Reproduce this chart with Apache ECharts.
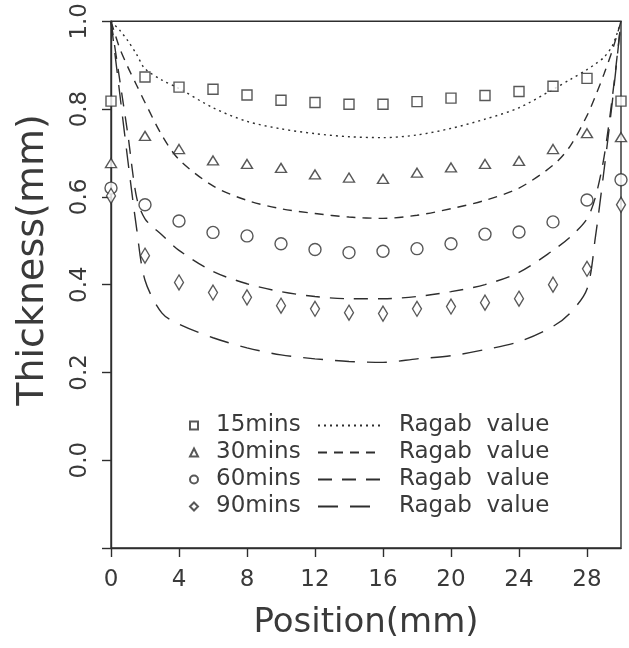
<!DOCTYPE html>
<html><head><meta charset="utf-8">
<script src="https://cdn.jsdelivr.net/npm/echarts@6/dist/echarts.min.js"></script>
<style>html,body{margin:0;padding:0;background:#fff}#c{width:629px;height:648px}</style>
</head><body><div id="c"></div>
<script>
// ---- data ----
const positions = [0, 2, 4, 6, 8, 10, 12, 14, 16, 18, 20, 22, 24, 26, 28, 30];
const mins15 = [0.818, 0.873, 0.850, 0.845, 0.832, 0.820, 0.815, 0.811, 0.811, 0.817, 0.825, 0.831, 0.840, 0.852, 0.870, 0.818];
const mins30 = [0.677, 0.739, 0.709, 0.683, 0.675, 0.666, 0.651, 0.644, 0.641, 0.655, 0.667, 0.675, 0.682, 0.709, 0.745, 0.736];
const mins60 = [0.620, 0.582, 0.545, 0.519, 0.511, 0.493, 0.480, 0.473, 0.476, 0.482, 0.493, 0.515, 0.520, 0.543, 0.593, 0.639];
const mins90 = [0.602, 0.466, 0.405, 0.382, 0.371, 0.352, 0.345, 0.336, 0.334, 0.345, 0.350, 0.359, 0.368, 0.400, 0.436, 0.582];

const ragabX  = [0, 0.5, 1, 1.5, 2, 3, 4, 6, 8, 10, 12, 14, 16, 18, 20, 22, 24, 26, 27, 28, 28.5, 29, 29.5, 30];
const ragab15 = [1.0, 0.98, 0.955, 0.925, 0.892, 0.866, 0.847, 0.803, 0.772, 0.755, 0.744, 0.737, 0.735, 0.741, 0.756, 0.777, 0.803, 0.845, 0.867, 0.89, 0.903, 0.918, 0.945, 1.0];
const ragab30 = [1.0, 0.94, 0.895, 0.855, 0.815, 0.74, 0.685, 0.625, 0.592, 0.573, 0.562, 0.554, 0.551, 0.558, 0.573, 0.592, 0.62, 0.672, 0.715, 0.785, 0.83, 0.88, 0.935, 1.0];
const ragab60 = [1.0, 0.87, 0.74, 0.6, 0.55, 0.513, 0.478, 0.43, 0.402, 0.384, 0.373, 0.368, 0.368, 0.373, 0.384, 0.4, 0.428, 0.478, 0.508, 0.55, 0.6, 0.69, 0.83, 1.0];
const ragab90 = [1.0, 0.84, 0.68, 0.53, 0.41, 0.335, 0.31, 0.279, 0.256, 0.24, 0.231, 0.225, 0.223, 0.231, 0.238, 0.252, 0.27, 0.305, 0.335, 0.39, 0.51, 0.66, 0.82, 1.0];

const xTicks = [0, 4, 8, 12, 16, 20, 24, 28];
const yTicks = [-0.2, 0, 0.2, 0.4, 0.6, 0.8, 1.0];
const yLabels = [0, 0.2, 0.4, 0.6, 0.8, 1.0];

const seriesNames = ['15mins', '30mins', '60mins', '90mins'];
const ragabNames = ['Ragab15', 'Ragab30', 'Ragab60', 'Ragab90'];
const ragabLabel = 'Ragab  value';

// ---- styling ----
const INK = '#2e2e2e';
const TXT = '#3a3a3a';
const FONT = 'DejaVu Sans';
const pts = (xs, ys) => xs.map((x, i) => [x, ys[i]]);

const markerDefs = [
  { vals: mins15, symbol: 'rect', size: [10, 10] },
  { vals: mins30, symbol: 'triangle', size: [11, 9] },
  { vals: mins60, symbol: 'circle', size: 12 },
  { vals: mins90, symbol: 'diamond', size: [9, 15] }
];
const lineDefs = [
  { vals: ragab15, dash: [2, 4] },
  { vals: ragab30, dash: [9, 7] },
  { vals: ragab60, dash: [14, 10] },
  { vals: ragab90, dash: [20, 12] }
];

const series = [];
lineDefs.forEach((d, i) => {
  series.push({
    type: 'line', name: ragabNames[i], data: pts(ragabX, d.vals),
    symbol: 'none', smooth: 0.3, z: 2,
    itemStyle: { color: INK },
    lineStyle: { color: INK, width: 1.4, type: d.dash }
  });
});
markerDefs.forEach((d, i) => {
  series.push({
    type: 'scatter', name: seriesNames[i], data: pts(positions, d.vals),
    symbol: d.symbol, symbolSize: d.size, z: 3,
    itemStyle: { color: '#fff', borderColor: INK, borderWidth: 1.4 }
  });
});

const legendText = { fontSize: 23, fontFamily: FONT, color: TXT, lineHeight: 27, padding: [0, 0, 0, 13] };

const chart = echarts.init(document.getElementById('c'), null, { renderer: 'canvas' });
chart.setOption({
  animation: false,
  backgroundColor: '#fff',
  grid: { left: 111, right: 8, top: 20, bottom: 100, show: true, borderColor: INK, borderWidth: 1.4, backgroundColor: 'transparent' },
  xAxis: {
    type: 'value', min: 0, max: 30,
    name: 'Position(mm)', nameLocation: 'middle', nameGap: 58,
    nameTextStyle: { fontSize: 34, fontFamily: FONT, color: TXT },
    axisLine: { show: true, onZero: false, lineStyle: { color: INK, width: 1.4 } },
    axisTick: { show: true, length: 9, customValues: xTicks, lineStyle: { color: INK, width: 1.4 } },
    axisLabel: { customValues: xTicks, margin: 21, fontSize: 23, fontFamily: FONT, color: TXT },
    splitLine: { show: false }
  },
  yAxis: {
    type: 'value', min: -0.2, max: 1.0,
    axisLine: { show: true, onZero: false, lineStyle: { color: INK, width: 1.4 } },
    axisTick: { show: true, length: 9, customValues: yTicks, lineStyle: { color: INK, width: 1.4 } },
    axisLabel: { customValues: yLabels, rotate: 90, margin: 19, fontSize: 23, fontFamily: FONT, color: TXT,
      formatter: v => Number(v).toFixed(1) },
    splitLine: { show: false }
  },
  legend: [
    { data: seriesNames, orient: 'vertical', left: 189, top: 412, padding: 0, itemGap: 0,
      itemWidth: 8, itemHeight: 8, selectedMode: false, textStyle: legendText },
    { data: ragabNames, orient: 'vertical', left: 317, top: 412, padding: 0, itemGap: 0,
      itemWidth: 63, itemHeight: 12, selectedMode: false, textStyle: legendText,
      itemStyle: { opacity: 0, color: 'transparent', borderWidth: 0 },
      formatter: () => ragabLabel }
  ],
  graphic: [{
    type: 'text', x: 33, y: 260, rotation: Math.PI / 2,
    style: { text: 'Thickness(mm)', fontSize: 38, fontFamily: FONT, fill: TXT, align: 'center', verticalAlign: 'middle' }
  }],
  series: series
});
</script></body></html>
